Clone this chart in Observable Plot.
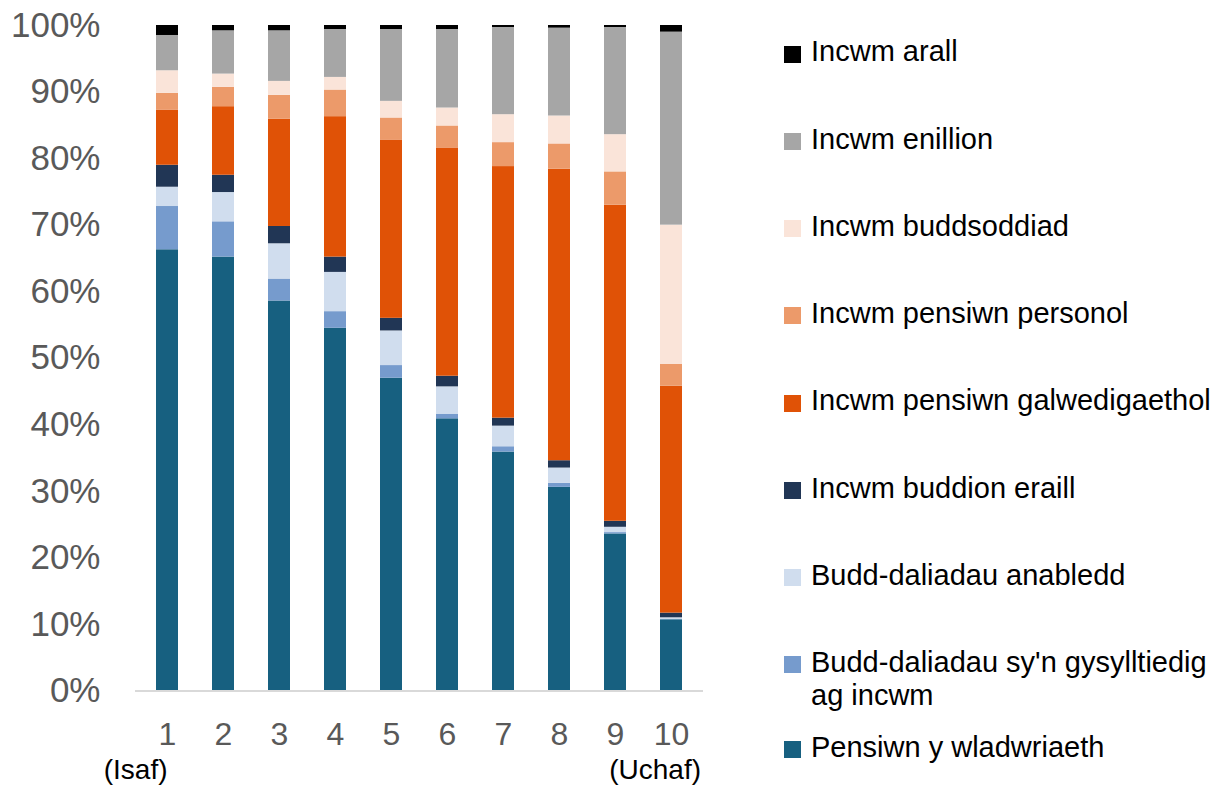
<!DOCTYPE html>
<html>
<head>
<meta charset="utf-8">
<script src="https://cdn.jsdelivr.net/npm/d3@7"></script>
<script src="https://cdn.jsdelivr.net/npm/@observablehq/plot@0.6"></script>
<style>
  html, body { margin: 0; padding: 0; background: #fff; }
  body { font-family: "Liberation Sans", Arial, sans-serif; }
  #wrap { position: relative; width: 1228px; height: 792px; overflow: hidden; }
  #chart { position: absolute; left: 0; top: 0; }
  .leg-sw { position: absolute; width: 17px; height: 17px; }
  .leg-tx { position: absolute; font-size: 29px; line-height: 33px; color: #000; white-space: nowrap; }
</style>
</head>
<body>
<div id="wrap">
  <div id="chart"></div>
  <div id="legend"></div>
</div>
<script>
// Categories (income deciles)
const deciles = ["1", "2", "3", "4", "5", "6", "7", "8", "9", "10"];
const extremeLabels = ["(Isaf)", "(Uchaf)"];

// Series (bottom to top of stack)
const seriesNames = [
  "Pensiwn y wladwriaeth",
  "Budd-daliadau sy'n gysylltiedig ag incwm",
  "Budd-daliadau anabledd",
  "Incwm buddion eraill",
  "Incwm pensiwn galwedigaethol",
  "Incwm pensiwn personol",
  "Incwm buddsoddiad",
  "Incwm enillion",
  "Incwm arall"
];
const seriesColors = [
  "#176080", "#769bcd", "#d0ddee", "#213655", "#e05206",
  "#ec9a6a", "#fae4d9", "#a6a6a6", "#000000"
];

// Shares (%) per decile
const statePension      = [66.3, 65.2, 58.6, 54.5, 47.0, 40.9, 35.9, 30.6, 23.6, 10.7];
const incomeRelated     = [6.5, 5.3, 3.3, 2.5, 1.9, 0.7, 0.8, 0.6, 0.2, 0.1];
const disability        = [2.9, 4.4, 5.3, 5.9, 5.2, 4.1, 3.1, 2.3, 0.8, 0.2];
const otherBenefits     = [3.3, 2.6, 2.6, 2.3, 1.9, 1.6, 1.2, 1.1, 0.9, 0.7];
const occupational      = [8.3, 10.3, 16.1, 21.1, 26.8, 34.3, 37.8, 43.8, 47.5, 34.1];
const personalPension   = [2.5, 2.9, 3.6, 4.0, 3.3, 3.3, 3.6, 3.8, 5.0, 3.3];
const investment        = [3.4, 2.0, 2.1, 1.9, 2.5, 2.7, 4.2, 4.2, 5.6, 20.9];
const earnings          = [5.3, 6.5, 7.6, 7.2, 10.8, 11.8, 13.1, 13.2, 16.1, 29.0];
const otherIncome       = [1.5, 0.8, 0.8, 0.6, 0.6, 0.6, 0.3, 0.4, 0.3, 1.0];

const yTicks = [0, 10, 20, 30, 40, 50, 60, 70, 80, 90, 100];

const seriesValues = [statePension, incomeRelated, disability, otherBenefits,
  occupational, personalPension, investment, earnings, otherIncome];

const rows = [];
seriesNames.forEach((s, i) => {
  deciles.forEach((d, j) => rows.push({decile: d, series: s, value: seriesValues[i][j]}));
});

const chart = Plot.plot({
  width: 720,
  height: 792,
  marginTop: 25,
  marginBottom: 101.5,
  marginLeft: 135,
  marginRight: 17,
  style: {fontFamily: "'Liberation Sans', Arial, sans-serif", color: "#595959", background: "transparent"},
  x: {domain: deciles, paddingInner: 0.6, paddingOuter: 0.3, label: null},
  y: {domain: [0, 100], label: null},
  color: {domain: seriesNames, range: seriesColors},
  marks: [
    Plot.barY(rows, {x: "decile", y: "value", fill: "series"}),
    Plot.ruleY([0], {stroke: "#d9d9d9", strokeWidth: 2}),
    Plot.axisY({ticks: yTicks, tickFormat: d => d + "%", tickSize: 0, tickPadding: 35, fontSize: 35, label: null}),
    Plot.axisX({tickSize: 0, tickPadding: 31, fontSize: 32, label: null}),
    Plot.text([extremeLabels[0]], {x: () => deciles[0], text: d => d, frameAnchor: "bottom", dy: 88, textAnchor: "end", dx: 0, fontSize: 28, fill: "black"}),
    Plot.text([extremeLabels[1]], {x: () => deciles[deciles.length - 1], text: d => d, frameAnchor: "bottom", dy: 88, textAnchor: "end", dx: 29.5, fontSize: 28, fill: "black"})
  ]
});
document.getElementById("chart").appendChild(chart);

// Legend (right side, reversed order)
const legend = document.getElementById("legend");
const legendOrder = seriesNames.map((s, i) => i).reverse();
const centers = [51, 138.25, 225.5, 312.75, 400, 487.25, 574.5, 661.75, 746.5];
const legendLines = {
  "Budd-daliadau sy'n gysylltiedig ag incwm": ["Budd-daliadau sy'n gysylltiedig", "ag incwm"]
};
legendOrder.forEach((idx, k) => {
  const name = seriesNames[idx];
  const c = centers[k];
  const sw = document.createElement("div");
  sw.className = "leg-sw";
  sw.style.left = "784px";
  sw.style.top = (c + 3 - 8.5) + "px";
  sw.style.background = seriesColors[idx];
  legend.appendChild(sw);
  const tx = document.createElement("div");
  tx.className = "leg-tx";
  tx.style.left = "811px";
  tx.style.top = (c - 15.7) + "px";
  const lines = legendLines[name] || [name];
  tx.innerHTML = lines.map(l => l.replace(/&/g, "&amp;").replace(/</g, "&lt;")).join("<br>");
  legend.appendChild(tx);
});
</script>
</body>
</html>
